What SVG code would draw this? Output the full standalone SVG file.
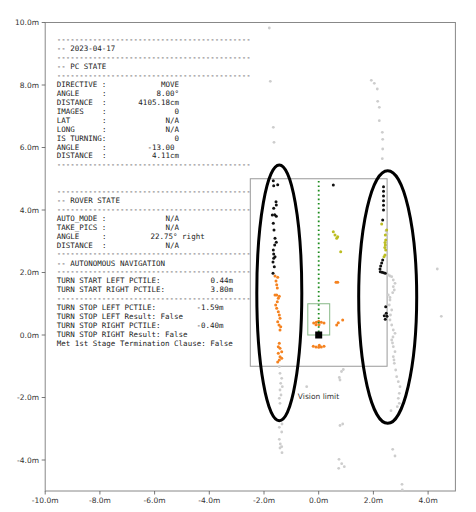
<svg xmlns="http://www.w3.org/2000/svg" width="476" height="512" viewBox="0 0 476 512">
<style>
.tk{font-family:"DejaVu Sans",sans-serif;font-size:7.5px;fill:#333}
.yl{text-anchor:end}
.xl{text-anchor:middle}
.mono{font-family:"DejaVu Sans Mono","Liberation Mono",monospace;font-size:7.5px;fill:#222}
.v{text-anchor:end}
.g{fill:#cdcdcd}
.k{fill:#111}
.o{fill:#f5821f}
.y{fill:#bcbd22}
.ell{fill:none;stroke:#000;stroke-width:3}
</style>
<rect width="476" height="512" fill="#fff"/>
<g id="axes">
<rect x="45.2" y="22.5" width="410.2" height="468.5" fill="none" stroke="#888" stroke-width="1"/>
<g stroke="#555" stroke-width="0.8">
<line x1="41.7" y1="22.5" x2="45.2" y2="22.5"/><line x1="41.7" y1="85" x2="45.2" y2="85"/><line x1="41.7" y1="147.5" x2="45.2" y2="147.5"/><line x1="41.7" y1="210" x2="45.2" y2="210"/><line x1="41.7" y1="272.5" x2="45.2" y2="272.5"/><line x1="41.7" y1="335" x2="45.2" y2="335"/><line x1="41.7" y1="397.5" x2="45.2" y2="397.5"/><line x1="41.7" y1="460" x2="45.2" y2="460"/>
<line x1="45.2" y1="491" x2="45.2" y2="494.5"/><line x1="99.9" y1="491" x2="99.9" y2="494.5"/><line x1="154.6" y1="491" x2="154.6" y2="494.5"/><line x1="209.3" y1="491" x2="209.3" y2="494.5"/><line x1="264" y1="491" x2="264" y2="494.5"/><line x1="318.7" y1="491" x2="318.7" y2="494.5"/><line x1="373.4" y1="491" x2="373.4" y2="494.5"/><line x1="428.1" y1="491" x2="428.1" y2="494.5"/>
</g>
<g class="tk yl">
<text x="39" y="25.2">10.0m</text><text x="39" y="87.7">8.0m</text><text x="39" y="150.2">6.0m</text><text x="39" y="212.7">4.0m</text><text x="39" y="275.2">2.0m</text><text x="39" y="337.7">0.0m</text><text x="39" y="400.2">-2.0m</text><text x="39" y="462.7">-4.0m</text>
</g>
<g class="tk xl">
<text x="45.2" y="503">-10.0m</text><text x="99.9" y="503">-8.0m</text><text x="154.6" y="503">-6.0m</text><text x="209.3" y="503">-4.0m</text><text x="264" y="503">-2.0m</text><text x="318.7" y="503">0.0m</text><text x="373.4" y="503">2.0m</text><text x="428.1" y="503">4.0m</text>
</g>
</g>
<g id="status-panel" class="mono">
<text x="56.7" y="41.9">-------------------------------------------</text>
<text x="56.7" y="51.4">-- 2023-04-17</text>
<text x="56.7" y="59.7">-------------------------------------------</text>
<text x="56.7" y="69.2">-- PC STATE</text>
<text x="56.7" y="77.6">-------------------------------------------</text>
<text x="56.7" y="87">DIRECTIVE :</text><text class="v" x="179" y="87">MOVE</text>
<text x="56.7" y="95.9">ANGLE</text><text x="101.9" y="95.9">:</text><text class="v" x="179" y="95.9">8.00°</text>
<text x="56.7" y="104.9">DISTANCE</text><text x="101.9" y="104.9">:</text><text class="v" x="179" y="104.9">4105.18cm</text>
<text x="56.7" y="113.8">IMAGES</text><text x="101.9" y="113.8">:</text><text class="v" x="179" y="113.8">0</text>
<text x="56.7" y="122.7">LAT</text><text x="101.9" y="122.7">:</text><text class="v" x="179" y="122.7">N/A</text>
<text x="56.7" y="131.6">LONG</text><text x="101.9" y="131.6">:</text><text class="v" x="179" y="131.6">N/A</text>
<text x="56.7" y="140.6">IS TURNING:</text><text class="v" x="179" y="140.6">0</text>
<text x="56.7" y="149.5">ANGLE</text><text x="101.9" y="149.5">:</text><text class="v" x="174.5" y="149.5">-13.00</text>
<text x="56.7" y="158.4">DISTANCE</text><text x="101.9" y="158.4">:</text><text class="v" x="179" y="158.4">4.11cm</text>
<text x="56.7" y="166.8">-------------------------------------------</text>
<text x="56.7" y="193.6">-------------------------------------------</text>
<text x="56.7" y="203.1">-- ROVER STATE</text>
<text x="56.7" y="211.5">-------------------------------------------</text>
<text x="56.7" y="220.9">AUTO_MODE :</text><text class="v" x="179" y="220.9">N/A</text>
<text x="56.7" y="229.8">TAKE_PICS :</text><text class="v" x="179" y="229.8">N/A</text>
<text x="56.7" y="238.8">ANGLE</text><text x="101.9" y="238.8">:</text><text x="150.5" y="238.8">22.75° right</text>
<text x="56.7" y="247.7">DISTANCE</text><text x="101.9" y="247.7">:</text><text class="v" x="179" y="247.7">N/A</text>
<text x="56.7" y="256.1">-------------------------------------------</text>
<text x="56.7" y="265.5">-- AUTONOMOUS NAVIGATION</text>
<text x="56.7" y="274">-------------------------------------------</text>
<text x="56.7" y="283.4">TURN START LEFT PCTILE:</text><text class="v" x="233" y="283.4">0.44m</text>
<text x="56.7" y="292.3">TURN START RIGHT PCTILE:</text><text class="v" x="233" y="292.3">3.80m</text>
<text x="56.7" y="300.7">-------------------------------------------</text>
<text x="56.7" y="310.2">TURN STOP LEFT PCTILE:</text><text class="v" x="223.5" y="310.2">-1.59m</text>
<text x="56.7" y="319.1">TURN STOP LEFT Result: False</text>
<text x="56.7" y="328">TURN STOP RIGHT PCTILE:</text><text class="v" x="223.5" y="328">-0.40m</text>
<text x="56.7" y="336.9">TURN STOP RIGHT Result: False</text>
<text x="56.7" y="345.9">Met 1st Stage Termination Clause: False</text>
</g>
<g id="vision-area">
<rect x="250.3" y="178.75" width="136.8" height="187.5" fill="none" stroke="#999" stroke-width="1"/>
<text x="318.5" y="399.3" font-family="DejaVu Sans, sans-serif" font-size="7.5" fill="#333" text-anchor="middle">Vision limit</text>
</g>
<g id="points-gray" class="g">
<circle cx="269.3" cy="28" r="1.4"/><circle cx="270.3" cy="81.3" r="1.4"/><circle cx="273.3" cy="127.3" r="1.4"/><circle cx="274" cy="142.3" r="1.4"/>
<circle cx="371.3" cy="80.3" r="1.4"/><circle cx="374.3" cy="83.3" r="1.4"/><circle cx="377.3" cy="89" r="1.4"/><circle cx="377.7" cy="101.3" r="1.4"/><circle cx="379.3" cy="107.3" r="1.4"/><circle cx="379.3" cy="120.7" r="1.4"/><circle cx="382.3" cy="132.3" r="1.4"/><circle cx="382.7" cy="139.3" r="1.4"/><circle cx="382.7" cy="149" r="1.4"/><circle cx="382.3" cy="158.7" r="1.4"/>
<circle cx="386" cy="231" r="1.4"/><circle cx="387" cy="234" r="1.4"/>
<circle cx="388.3" cy="275" r="1.4"/><circle cx="390" cy="276" r="1.4"/><circle cx="391.7" cy="276.7" r="1.4"/><circle cx="393.3" cy="280" r="1.4"/><circle cx="395" cy="283.3" r="1.4"/><circle cx="393.3" cy="286.7" r="1.4"/><circle cx="394.3" cy="290" r="1.4"/><circle cx="392.7" cy="292.7" r="1.4"/><circle cx="388.3" cy="295" r="1.4"/><circle cx="390" cy="297.5" r="1.4"/><circle cx="390" cy="300" r="1.4"/><circle cx="389.3" cy="305" r="1.4"/><circle cx="391.7" cy="310" r="1.4"/><circle cx="390.5" cy="315" r="1.4"/><circle cx="390" cy="320" r="1.4"/><circle cx="391.7" cy="325" r="1.4"/><circle cx="393.3" cy="330" r="1.4"/><circle cx="395" cy="333.3" r="1.4"/><circle cx="393" cy="337" r="1.4"/><circle cx="391.7" cy="340" r="1.4"/><circle cx="392.5" cy="343" r="1.4"/><circle cx="393.3" cy="346.7" r="1.4"/><circle cx="395" cy="351.7" r="1.4"/><circle cx="393.3" cy="356.7" r="1.4"/><circle cx="394" cy="360" r="1.4"/><circle cx="394.3" cy="363.3" r="1.4"/><circle cx="395.7" cy="370" r="1.4"/><circle cx="396.7" cy="376.7" r="1.4"/><circle cx="398.3" cy="381.7" r="1.4"/><circle cx="400" cy="386.7" r="1.4"/><circle cx="399.3" cy="393.3" r="1.4"/><circle cx="398.3" cy="398.3" r="1.4"/><circle cx="399.3" cy="403.3" r="1.4"/><circle cx="397.3" cy="406.7" r="1.4"/><circle cx="391" cy="410.7" r="1.4"/>
<circle cx="437.3" cy="269" r="1.4"/><circle cx="441.3" cy="316.3" r="1.4"/>
<circle cx="392.7" cy="449.3" r="1.4"/><circle cx="395" cy="456" r="1.4"/><circle cx="402" cy="484.3" r="1.4"/><circle cx="402.3" cy="490" r="1.4"/>
<circle cx="343.3" cy="369.5" r="1.4"/><circle cx="341.5" cy="371.5" r="1.4"/><circle cx="339.3" cy="377.5" r="1.4"/><circle cx="340" cy="380" r="1.4"/><circle cx="306.7" cy="386.7" r="1.4"/>
<circle cx="340" cy="425.5" r="1.4"/><circle cx="342.7" cy="424" r="1.4"/><circle cx="339" cy="459.3" r="1.4"/><circle cx="341.7" cy="463.7" r="1.4"/><circle cx="344.3" cy="466.7" r="1.4"/><circle cx="338.7" cy="468.3" r="1.4"/>
<circle cx="279.3" cy="366.7" r="1.4"/><circle cx="280" cy="373.3" r="1.4"/><circle cx="281.7" cy="378.3" r="1.4"/><circle cx="280.7" cy="383.3" r="1.4"/><circle cx="282.3" cy="386.7" r="1.4"/><circle cx="280" cy="390" r="1.4"/><circle cx="281" cy="395" r="1.4"/><circle cx="279.3" cy="398.3" r="1.4"/><circle cx="280" cy="403.3" r="1.4"/>
<circle cx="282" cy="424" r="1.4"/><circle cx="279.3" cy="427.3" r="1.4"/><circle cx="281.7" cy="432" r="1.4"/><circle cx="279.3" cy="439.3" r="1.4"/><circle cx="280.3" cy="444" r="1.4"/><circle cx="281.7" cy="446.7" r="1.4"/><circle cx="280" cy="448" r="1.4"/><circle cx="282" cy="452.7" r="1.4"/>
</g>
<g id="points-black" class="k">
<circle cx="273.3" cy="180.7" r="1.5"/><circle cx="273.7" cy="185.7" r="1.5"/><circle cx="277.7" cy="184.7" r="1.5"/><circle cx="276" cy="201.7" r="1.5"/><circle cx="276.3" cy="205" r="1.5"/><circle cx="273.7" cy="208.3" r="1.5"/><circle cx="272.3" cy="215" r="1.5"/><circle cx="274.7" cy="214.7" r="1.5"/><circle cx="276.3" cy="216.3" r="1.5"/><circle cx="273.3" cy="223.3" r="1.5"/><circle cx="274" cy="230" r="1.5"/><circle cx="275" cy="238.3" r="1.5"/><circle cx="276.3" cy="242.3" r="1.5"/><circle cx="274.7" cy="245" r="1.5"/><circle cx="273.3" cy="250" r="1.5"/><circle cx="273.7" cy="254" r="1.5"/><circle cx="275" cy="256.7" r="1.5"/><circle cx="273.7" cy="258.3" r="1.5"/><circle cx="273" cy="262" r="1.5"/><circle cx="274.3" cy="266.7" r="1.5"/><circle cx="273" cy="273.3" r="1.5"/>
<circle cx="333.3" cy="185" r="1.5"/>
<circle cx="383.5" cy="186.7" r="1.5"/><circle cx="383.5" cy="191.3" r="1.5"/><circle cx="383.5" cy="196" r="1.5"/><circle cx="383.5" cy="200.7" r="1.5"/><circle cx="383.5" cy="205.3" r="1.5"/><circle cx="383.5" cy="210" r="1.5"/><circle cx="382.7" cy="220" r="1.5"/>
<circle cx="382.7" cy="260" r="1.5"/><circle cx="381.7" cy="263" r="1.5"/><circle cx="380.7" cy="266" r="1.5"/><circle cx="380" cy="269" r="1.5"/><circle cx="380.3" cy="271.7" r="1.5"/><circle cx="382" cy="272.3" r="1.5"/><circle cx="383.7" cy="272.7" r="1.5"/><circle cx="385.3" cy="273.3" r="1.5"/>
<circle cx="385.7" cy="306.7" r="1.5"/><circle cx="386.3" cy="313.3" r="1.5"/><circle cx="384.3" cy="315.7" r="1.5"/><circle cx="387" cy="316.3" r="1.5"/><circle cx="385.3" cy="319.3" r="1.5"/>
</g>
<g id="points-olive" class="y">
<circle cx="333.3" cy="231.7" r="1.5"/><circle cx="335" cy="235" r="1.5"/><circle cx="336.7" cy="238.3" r="1.5"/><circle cx="337.7" cy="236.7" r="1.5"/><circle cx="340.7" cy="251.7" r="1.5"/>
<circle cx="381.7" cy="224" r="1.5"/><circle cx="386.7" cy="230" r="1.5"/><circle cx="385.3" cy="235" r="1.5"/><circle cx="385.7" cy="240" r="1.5"/><circle cx="385" cy="242.5" r="1.5"/><circle cx="385.3" cy="245" r="1.5"/><circle cx="384.8" cy="247.5" r="1.5"/><circle cx="385.7" cy="250" r="1.5"/><circle cx="385" cy="255" r="1.5"/><circle cx="384" cy="256.7" r="1.5"/>
</g>
<g id="points-orange" class="o">
<circle cx="275" cy="276" r="1.5"/><circle cx="277.7" cy="277.3" r="1.5"/><circle cx="276" cy="281" r="1.5"/><circle cx="276.7" cy="284.7" r="1.5"/><circle cx="277.3" cy="288" r="1.5"/><circle cx="275" cy="295" r="1.5"/><circle cx="276.7" cy="295" r="1.5"/><circle cx="279.3" cy="296.3" r="1.5"/><circle cx="278.3" cy="298.3" r="1.5"/><circle cx="277.3" cy="301.7" r="1.5"/><circle cx="275.7" cy="305" r="1.5"/><circle cx="276.7" cy="308.3" r="1.5"/><circle cx="278.3" cy="311.7" r="1.5"/><circle cx="279.3" cy="315" r="1.5"/><circle cx="280" cy="318.3" r="1.5"/><circle cx="277.7" cy="321.7" r="1.5"/><circle cx="279" cy="325" r="1.5"/><circle cx="280.7" cy="326.7" r="1.5"/><circle cx="280" cy="330" r="1.5"/>
<circle cx="279.3" cy="343.3" r="1.5"/><circle cx="278.3" cy="346.7" r="1.5"/><circle cx="280" cy="348.3" r="1.5"/><circle cx="281.7" cy="351.7" r="1.5"/><circle cx="278.3" cy="353.3" r="1.5"/><circle cx="280" cy="356.7" r="1.5"/><circle cx="281.7" cy="358.3" r="1.5"/><circle cx="279.3" cy="360" r="1.5"/><circle cx="277.7" cy="362" r="1.5"/>
<circle cx="336" cy="282.3" r="1.5"/><circle cx="337.7" cy="282.3" r="1.5"/>
<circle cx="313.7" cy="323" r="1.5"/><circle cx="316.3" cy="322.3" r="1.5"/><circle cx="318.7" cy="321.3" r="1.5"/><circle cx="321.3" cy="322.3" r="1.5"/><circle cx="324" cy="323" r="1.5"/><circle cx="319" cy="324.7" r="1.5"/><circle cx="316" cy="324.7" r="1.5"/>
<circle cx="336.7" cy="325" r="1.5"/><circle cx="338.3" cy="322.7" r="1.5"/><circle cx="342.7" cy="320" r="1.5"/>
<circle cx="313.3" cy="346.3" r="1.5"/><circle cx="316" cy="347" r="1.5"/><circle cx="318.7" cy="347.3" r="1.5"/><circle cx="321.3" cy="347" r="1.5"/><circle cx="324" cy="346.3" r="1.5"/><circle cx="319.3" cy="345.3" r="1.5"/>
</g>
<g id="rover">
<line x1="318.7" y1="181" x2="318.7" y2="333" stroke="#1a8a1a" stroke-width="1.8" stroke-dasharray="1.6 2.8"/>
<rect x="307.8" y="303.75" width="21.9" height="31.25" fill="none" stroke="#86b886" stroke-width="1"/>
<rect x="315.2" y="331.5" width="7" height="7" fill="#000"/>
</g>
<g id="ellipses">
<ellipse class="ell" cx="279.3" cy="292.9" rx="22.5" ry="127.9"/>
<ellipse class="ell" cx="387.7" cy="297" rx="29" ry="126.3"/>
</g>
</svg>
